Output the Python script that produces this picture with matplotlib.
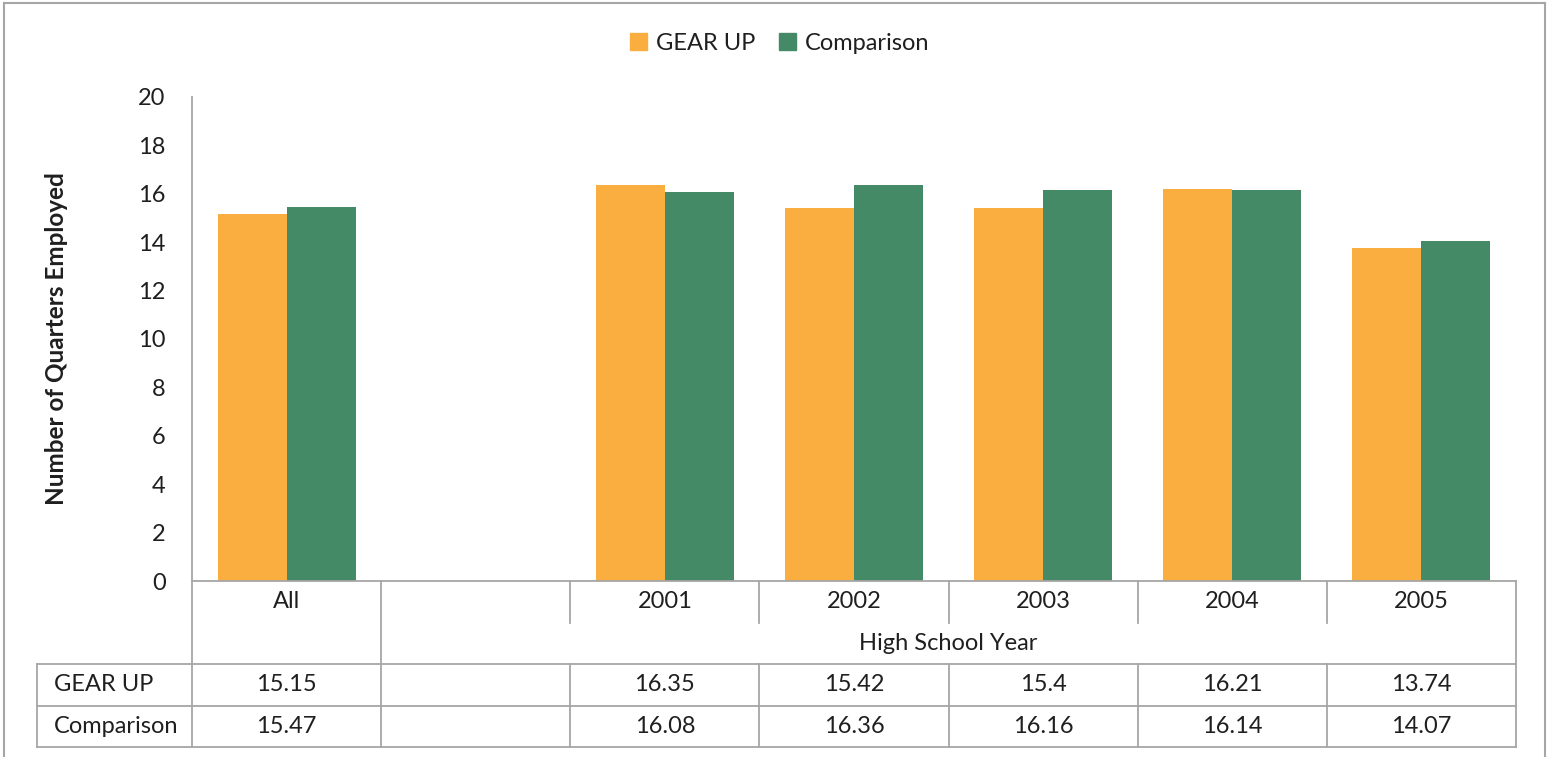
import numpy as np
import matplotlib.pyplot as plt
from matplotlib.lines import Line2D
from matplotlib.patches import Patch

plt.rcParams['font.family'] = ['Lato', 'DejaVu Sans']

# data
categories = ['All', '', '2001', '2002', '2003', '2004', '2005']
gear_up = [15.15, np.nan, 16.35, 15.42, 15.4, 16.21, 13.74]
comparison = [15.47, np.nan, 16.08, 16.36, 16.16, 16.14, 14.07]
group_label = 'High School Year'
series_names = ['GEAR UP', 'Comparison']

orange = '#F9AE3F'
green = '#458A66'
grid_c = '#A6A6A6'
txt_c = '#1F1F1F'
fs = 17

W, H = 1547, 757
fig = plt.figure(figsize=(W / 100, H / 100), dpi=100)

def rect(x0, y0, x1, y1):
    return [x0 / W, 1 - y1 / H, (x1 - x0) / W, (y1 - y0) / H]

# outer chart border
for xs, ys in [([4, 4], [757, 3]), ([4, 1545], [3, 3]), ([1545, 1545], [3, 757])]:
    fig.add_artist(Line2D([x / W for x in xs], [1 - y / H for y in ys],
                          color=grid_c, lw=1.5))

ax = fig.add_axes(rect(192, 97, 1516, 581))
x = np.arange(len(categories)) + 0.5
w = 0.365
ax.bar(x - w / 2, gear_up, w, color=orange, label=series_names[0])
ax.bar(x + w / 2, comparison, w, color=green, label=series_names[1])
ax.set_xlim(0, len(categories))
ax.set_ylim(0, 20)
ax.set_yticks(range(0, 21, 2))
ax.set_xticks([])
ax.tick_params(axis='y', length=0, pad=19, labelsize=fs, labelcolor=txt_c)
for s in ['top', 'right']:
    ax.spines[s].set_visible(False)
for s in ['left', 'bottom']:
    ax.spines[s].set_color(grid_c)
    ax.spines[s].set_linewidth(1.3)
ax.set_ylabel('Number of Quarters Employed', fontsize=17.5, fontweight='bold',
              color=txt_c)
ax.yaxis.set_label_coords((68 - 192) / 1324, 0.5)

# data table below the plot
n = len(categories)
left = -(192 - 37) / ((1516 - 192) / n)
tab = fig.add_axes(rect(37, 581, 1516, 747))
tab.set_xlim(left, n)
tab.set_ylim(4, 0)
tab.axis('off')
kw = dict(color=grid_c, lw=1.3, clip_on=False)
for i in range(n + 1):
    if i in (0, 1, n):
        tab.plot([i, i], [0, 4], **kw)
    else:
        tab.plot([i, i], [0, 1], **kw)
        tab.plot([i, i], [2, 4], **kw)
tab.plot([left, left], [2, 4], **kw)
for r in (2, 3, 4):
    tab.plot([left, n], [r, r], **kw)

for i, c in enumerate(categories):
    tab.text(i + 0.5, 0.5, c, ha='center', va='center', fontsize=fs, color=txt_c)
tab.text(1 + (n - 1) / 2, 1.5, group_label, ha='center', va='center',
         fontsize=fs, color=txt_c)
for r, (name, vals) in enumerate(zip(series_names, [gear_up, comparison])):
    tab.text(left + 0.09, 2.5 + r, name, ha='left', va='center',
             fontsize=fs, color=txt_c)
    for i, v in enumerate(vals):
        if not np.isnan(v):
            tab.text(i + 0.5, 2.5 + r, f'{v:g}', ha='center', va='center',
                     fontsize=fs, color=txt_c)

handles = [Patch(color=orange), Patch(color=green)]
fig.legend(handles, series_names, loc='center', bbox_to_anchor=(780 / W, 1 - 43 / H),
           ncol=2, frameon=False, fontsize=fs, handlelength=0.7, handleheight=0.7,
           handletextpad=0.4, columnspacing=1.0, labelcolor=txt_c)

fig.savefig('out.png', dpi=100)
